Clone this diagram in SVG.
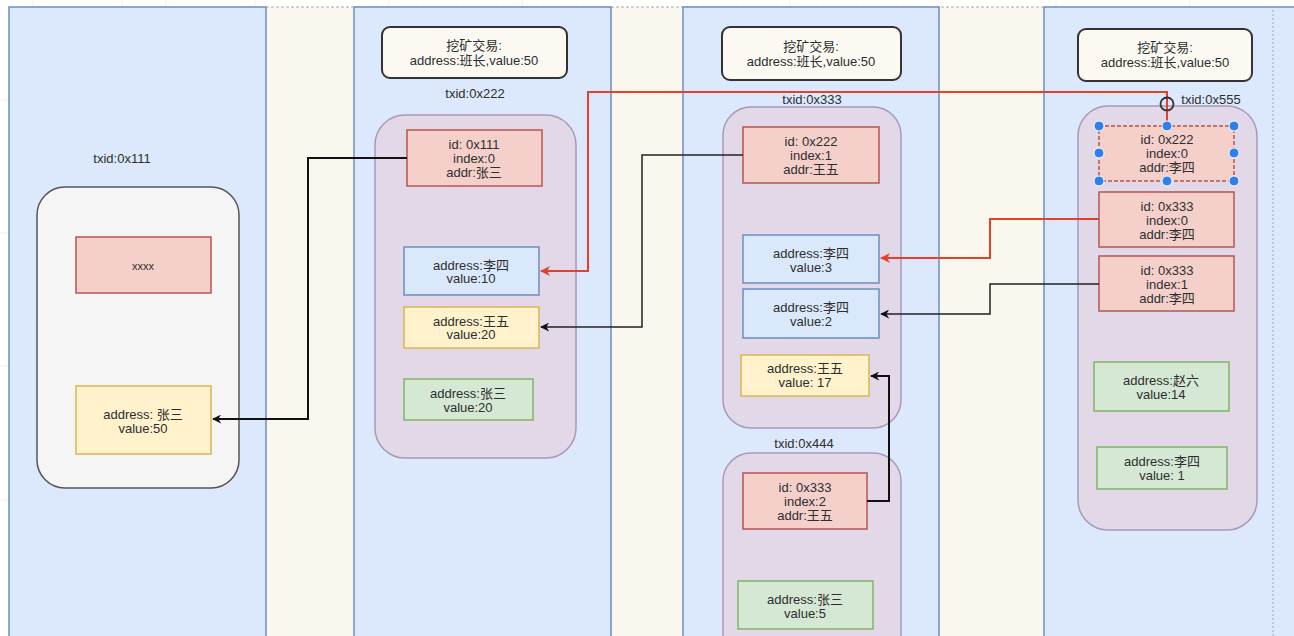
<svg xmlns="http://www.w3.org/2000/svg" width="1294" height="636" viewBox="0 0 1294 636">
  <style>
    text { font-family: "Liberation Sans", Arial, "Noto Sans CJK SC", sans-serif; font-size: 13px; fill: #2e2e2e; text-anchor: middle; }
    .col { fill: #dce8fb; stroke: #6c8ebf; stroke-width: 1.5; }
    .gap { fill: #faf7ee; }
    .mine { fill: #fbf9f2; stroke: #333; stroke-width: 2; }
    .tx { fill: #e2d8e8; stroke: #a899b8; stroke-width: 1.5; }
    .gen { fill: #f5f5f5; stroke: #555; stroke-width: 1.5; }
    .in { fill: #f5d0cb; stroke: #b85450; stroke-width: 1.5; }
    .blue { fill: #dae8fc; stroke: #6c8ebf; stroke-width: 1.5; }
    .yel { fill: #fff2cc; stroke: #d6b656; stroke-width: 1.5; }
    .grn { fill: #d5e8d4; stroke: #82b366; stroke-width: 1.5; }
    .wire { fill: none; stroke: #111; stroke-width: 2; }
    .wire.thin { stroke-width: 1.5; stroke: #222; }
    .red { fill: none; stroke: #e5402c; stroke-width: 2; }
    .handle { fill: #2f80ed; stroke: #fff; stroke-width: 1; }
  </style>
  <defs>
    <marker id="arrBlack" viewBox="0 0 10 10" refX="9" refY="5" markerWidth="9" markerHeight="9" markerUnits="userSpaceOnUse" orient="auto">
      <path d="M0,0 L10,5 L0,10 L3,5 Z" fill="#111"/>
    </marker>
    <marker id="arrRed" viewBox="0 0 10 10" refX="9" refY="5" markerWidth="10" markerHeight="10" markerUnits="userSpaceOnUse" orient="auto">
      <path d="M0,0 L10,5 L0,10 L3,5 Z" fill="#e5402c"/>
    </marker>
  </defs>

  <!-- canvas and faint grid -->
  <rect x="0" y="0" width="1294" height="636" fill="#ffffff"/>
  <g stroke="#eeeeee" stroke-width="1">
    <line x1="33" y1="0" x2="33" y2="7"/>
    <line x1="122" y1="0" x2="122" y2="7"/>
    <line x1="166" y1="0" x2="166" y2="7"/>
    <line x1="255" y1="0" x2="255" y2="7"/>
    <line x1="389" y1="0" x2="389" y2="7"/>
    <line x1="522" y1="0" x2="522" y2="7"/>
    <line x1="790" y1="0" x2="790" y2="7"/>
    <line x1="1056" y1="0" x2="1056" y2="7"/>
    <line x1="1190" y1="0" x2="1190" y2="7"/>
    <line x1="0" y1="100" x2="9" y2="100"/>
    <line x1="0" y1="233" x2="9" y2="233"/>
    <line x1="0" y1="366" x2="9" y2="366"/>
    <line x1="0" y1="500" x2="9" y2="500"/>
  </g>

  <!-- columns -->
  <g id="lanes">
    <rect class="gap" x="266" y="7" width="89" height="640"/>
    <rect class="gap" x="611" y="7" width="72" height="640"/>
    <rect class="gap" x="939" y="7" width="105" height="640"/>
    <line x1="266" y1="7" x2="1044" y2="7" stroke="#aaa" stroke-width="1" stroke-dasharray="3,2"/>
    <rect class="col" x="9" y="7" width="257" height="640"/>
    <rect class="col" x="354" y="7" width="257" height="640"/>
    <rect class="col" x="683" y="7" width="256" height="640"/>
    <rect class="col" x="1044" y="7" width="260" height="640"/>
    <line x1="1273" y1="10" x2="1273" y2="636" stroke="#9ab8dd" stroke-width="1.2" stroke-dasharray="2,2"/>
  </g>

  <!-- block 1 -->
  <g id="tx111">
    <text x="122" y="163">txid:0x111</text>
    <rect class="gen" x="37" y="187" width="202" height="301" rx="28"/>
  </g>
  <g id="tx111-in">
    <rect class="in" x="76" y="237" width="135" height="56"/>
    <text x="143" y="270" style="font-size:11px">xxxx</text>
  </g>
  <g id="tx111-out">
    <rect class="yel" x="76" y="386" width="135" height="68"/>
    <text x="143" y="419">address: 张三</text>
    <text x="143" y="433">value:50</text>
  </g>

  <!-- block 2 -->
  <g id="mine2">
    <rect class="mine" x="382" y="27" width="185" height="51" rx="8"/>
    <text x="474" y="50">挖矿交易:</text>
    <text x="474" y="65">address:班长,value:50</text>
  </g>
  <g id="tx222">
    <text x="475" y="98">txid:0x222</text>
    <rect class="tx" x="375" y="115" width="201" height="343" rx="30"/>
  </g>
  <g id="tx222-in">
    <rect class="in" x="407" y="130" width="135" height="56"/>
    <text x="474" y="149">id: 0x111</text>
    <text x="474" y="163">index:0</text>
    <text x="474" y="177">addr:张三</text>
  </g>
  <g id="tx222-out0">
    <rect class="blue" x="404" y="247" width="135" height="48"/>
    <text x="471" y="270">address:李四</text>
    <text x="471" y="283">value:10</text>
  </g>
  <g id="tx222-out1">
    <rect class="yel" x="404" y="307" width="135" height="41"/>
    <text x="471" y="326">address:王五</text>
    <text x="471" y="339">value:20</text>
  </g>
  <g id="tx222-out2">
    <rect class="grn" x="404" y="379" width="129" height="41"/>
    <text x="468" y="398">address:张三</text>
    <text x="468" y="412">value:20</text>
  </g>

  <!-- block 3 -->
  <g id="mine3">
    <rect class="mine" x="722" y="27" width="179" height="53" rx="8"/>
    <text x="811" y="51">挖矿交易:</text>
    <text x="811" y="66">address:班长,value:50</text>
  </g>
  <g id="tx333">
    <text x="812" y="104">txid:0x333</text>
    <rect class="tx" x="723" y="107" width="178" height="321" rx="28"/>
  </g>
  <g id="tx333-in">
    <rect class="in" x="743" y="127" width="136" height="56"/>
    <text x="811" y="146">id: 0x222</text>
    <text x="811" y="160">index:1</text>
    <text x="811" y="174">addr:王五</text>
  </g>
  <g id="tx333-out0">
    <rect class="blue" x="743" y="235" width="136" height="48"/>
    <text x="811" y="258">address:李四</text>
    <text x="811" y="272">value:3</text>
  </g>
  <g id="tx333-out1">
    <rect class="blue" x="743" y="289" width="136" height="49"/>
    <text x="811" y="312">address:李四</text>
    <text x="811" y="326">value:2</text>
  </g>
  <g id="tx333-out2">
    <rect class="yel" x="741" y="355" width="128" height="41"/>
    <text x="805" y="373">address:王五</text>
    <text x="805" y="387">value: 17</text>
  </g>
  <g id="tx444">
    <text x="804" y="448">txid:0x444</text>
    <rect class="tx" x="723" y="453" width="178" height="220" rx="28"/>
  </g>
  <g id="tx444-in">
    <rect class="in" x="743" y="473" width="124" height="56"/>
    <text x="805" y="492">id: 0x333</text>
    <text x="805" y="506">index:2</text>
    <text x="805" y="520">addr:王五</text>
  </g>
  <g id="tx444-out">
    <rect class="grn" x="738" y="581" width="135" height="48"/>
    <text x="805" y="604">address:张三</text>
    <text x="805" y="618">value:5</text>
  </g>

  <!-- block 4 -->
  <g id="mine4">
    <rect class="mine" x="1078" y="29" width="174" height="52" rx="8"/>
    <text x="1165" y="52">挖矿交易:</text>
    <text x="1165" y="67">address:班长,value:50</text>
  </g>
  <g id="tx555">
    <rect class="tx" x="1078" y="106" width="179" height="424" rx="30"/>
    <text x="1211" y="104">txid:0x555</text>
  </g>
  <g id="tx555-in0">
    <rect class="in" x="1099" y="126" width="135" height="55" stroke-dasharray="4,2"/>
    <text x="1167" y="144">id: 0x222</text>
    <text x="1167" y="158">index:0</text>
    <text x="1167" y="172">addr:李四</text>
  </g>
  <g id="tx555-in1">
    <rect class="in" x="1099" y="192" width="135" height="55"/>
    <text x="1167" y="211">id: 0x333</text>
    <text x="1167" y="225">index:0</text>
    <text x="1167" y="239">addr:李四</text>
  </g>
  <g id="tx555-in2">
    <rect class="in" x="1099" y="256" width="135" height="55"/>
    <text x="1167" y="275">id: 0x333</text>
    <text x="1167" y="289">index:1</text>
    <text x="1167" y="303">addr:李四</text>
  </g>
  <g id="tx555-out0">
    <rect class="grn" x="1094" y="362" width="135" height="49"/>
    <text x="1161" y="385">address:赵六</text>
    <text x="1161" y="399">value:14</text>
  </g>
  <g id="tx555-out1">
    <rect class="grn" x="1097" y="447" width="130" height="42"/>
    <text x="1162" y="466">address:李四</text>
    <text x="1162" y="480">value: 1</text>
  </g>

  <!-- connectors -->
  <g id="connectors">
    <path class="wire" d="M407,158 H308 V419 H213" marker-end="url(#arrBlack)"/>
    <path class="red" d="M1167,126 V92 H588 V271 H541" marker-end="url(#arrRed)"/>
    <path class="wire thin" d="M743,155 H642 V327 H541" marker-end="url(#arrBlack)"/>
    <path class="red" d="M1099,219 H990 V258 H881" marker-end="url(#arrRed)"/>
    <path class="wire thin" d="M1099,284 H990 V314 H881" marker-end="url(#arrBlack)"/>
    <path class="wire" d="M867,501 H889 V376 H871" marker-end="url(#arrBlack)"/>
  </g>

  <!-- selection handles on the first input of tx 0x555 -->
  <g id="selection">
    <circle cx="1167" cy="104" r="6.5" fill="none" stroke="#333" stroke-width="1.8"/>
    <line x1="1167" y1="111" x2="1167" y2="126" stroke="#e5402c" stroke-width="1.5" stroke-dasharray="3,2"/>
    <circle class="handle" cx="1099" cy="126" r="5"/>
    <circle class="handle" cx="1167" cy="126" r="5"/>
    <circle class="handle" cx="1234" cy="126" r="5"/>
    <circle class="handle" cx="1099" cy="153" r="5"/>
    <circle class="handle" cx="1234" cy="153" r="5"/>
    <circle class="handle" cx="1099" cy="181" r="5"/>
    <circle class="handle" cx="1167" cy="181" r="5"/>
    <circle class="handle" cx="1234" cy="181" r="5"/>
  </g>
</svg>
